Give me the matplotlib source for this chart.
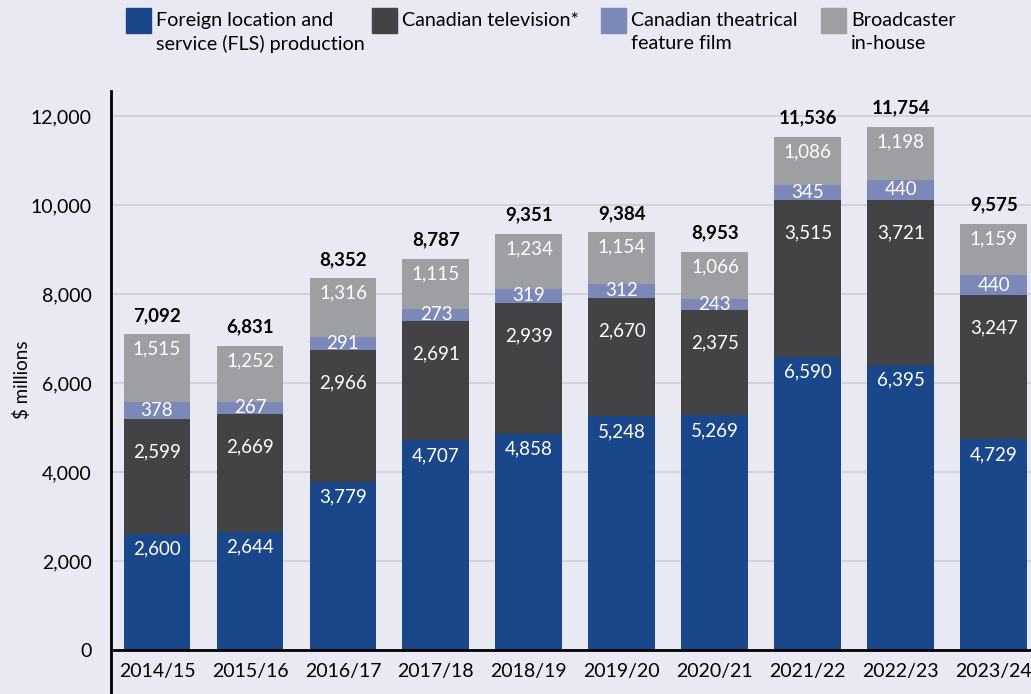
import matplotlib
matplotlib.use('Agg')
import matplotlib.pyplot as plt
from matplotlib.patches import Rectangle
import numpy as np

years = ['2014/15', '2015/16', '2016/17', '2017/18', '2018/19',
         '2019/20', '2020/21', '2021/22', '2022/23', '2023/24']
fls = [2600, 2644, 3779, 4707, 4858, 5248, 5269, 6590, 6395, 4729]
cdn_tv = [2599, 2669, 2966, 2691, 2939, 2670, 2375, 3515, 3721, 3247]
theatrical = [378, 267, 291, 273, 319, 312, 243, 345, 440, 440]
in_house = [1515, 1252, 1316, 1115, 1234, 1154, 1066, 1086, 1198, 1159]
totals = [7092, 6831, 8352, 8787, 9351, 9384, 8953, 11536, 11754, 9575]

labels = ['Foreign location and\nservice (FLS) production', 'Canadian television*',
          'Canadian theatrical\nfeature film', 'Broadcaster\nin-house']
colors = ['#1a4789', '#434345', '#7b88b8', '#9e9fa3']
bg = '#e9e9f3'

plt.rcParams['font.family'] = ['Lato', 'DejaVu Sans']

W, H = 1031, 694
fig = plt.figure(figsize=(W / 100, H / 100), dpi=100, facecolor=bg)
ax = fig.add_axes([111 / W, 0, 1 - 111 / W, 1 - 91 / H])
ax.set_facecolor(bg)

x = np.arange(len(years))
w = 0.72
series = [fls, cdn_tv, theatrical, in_house]
bottom = np.zeros(len(years))
for vals, c, lab in zip(series, colors, labels):
    ax.bar(x, vals, w, bottom=bottom, color=c, label=lab, zorder=3)
    bottom = bottom + np.array(vals)

# segment labels (offsets in px from segment top; theatrical centred)
px = 0.72
fs = 13.5
bottom = np.zeros(len(years))
for i, vals in enumerate(series):
    for j, v in enumerate(vals):
        top = bottom[j] + v
        if i == 2:
            ax.text(x[j], bottom[j] + v / 2, f'{v:,}', ha='center', va='center',
                    color='white', fontsize=fs, zorder=4)
        else:
            off = -33 if i == 1 else -15
            ax.annotate(f'{v:,}', (x[j], top), xytext=(0, off * px), textcoords='offset points',
                        ha='center', va='center', color='white', fontsize=fs, zorder=4)
    bottom = bottom + np.array(vals)

for j, t in enumerate(totals):
    ax.annotate(f'{t:,}', (x[j], bottom[j]), xytext=(0, 19 * px), textcoords='offset points',
                ha='center', va='center', color='black', fontsize=fs, fontweight='bold', zorder=4)

ax.set_xlim(-0.495, 9.4)
ax.set_ylim(-990, 12560)
ax.set_yticks(range(0, 12001, 2000))
ax.set_yticklabels([f'{v:,}' for v in range(0, 12001, 2000)], fontsize=14)
ax.tick_params(axis='y', length=0, pad=14)
ax.set_xticks([])
for j, yr in enumerate(years):
    ax.text(x[j], -490, yr, ha='center', va='center', fontsize=14)
ax.grid(axis='y', color='#d2d2da', linewidth=1.5, zorder=0)
ax.axhline(0, color='black', linewidth=2, zorder=5)
for s in ['top', 'right', 'bottom']:
    ax.spines[s].set_visible(False)
ax.spines['left'].set_linewidth(2)
fig.text(22 / W, 1 - 380 / H, '$ millions', rotation=90, ha='center', va='center', fontsize=13.5)

# legend: square swatches aligned with first line of each label
leg_x = [126, 372, 601, 821]
for lx, c, lab in zip(leg_x, colors, labels):
    fig.patches.append(Rectangle((lx / W, 1 - 33 / H), 25 / W, 25 / H,
                                 transform=fig.transFigure, color=c))
    fig.text((lx + 30) / W, 1 - 12 / H, lab, ha='left', va='top', fontsize=14.2,
             linespacing=1.4)

fig.savefig('out.png', dpi=100, facecolor=bg)
